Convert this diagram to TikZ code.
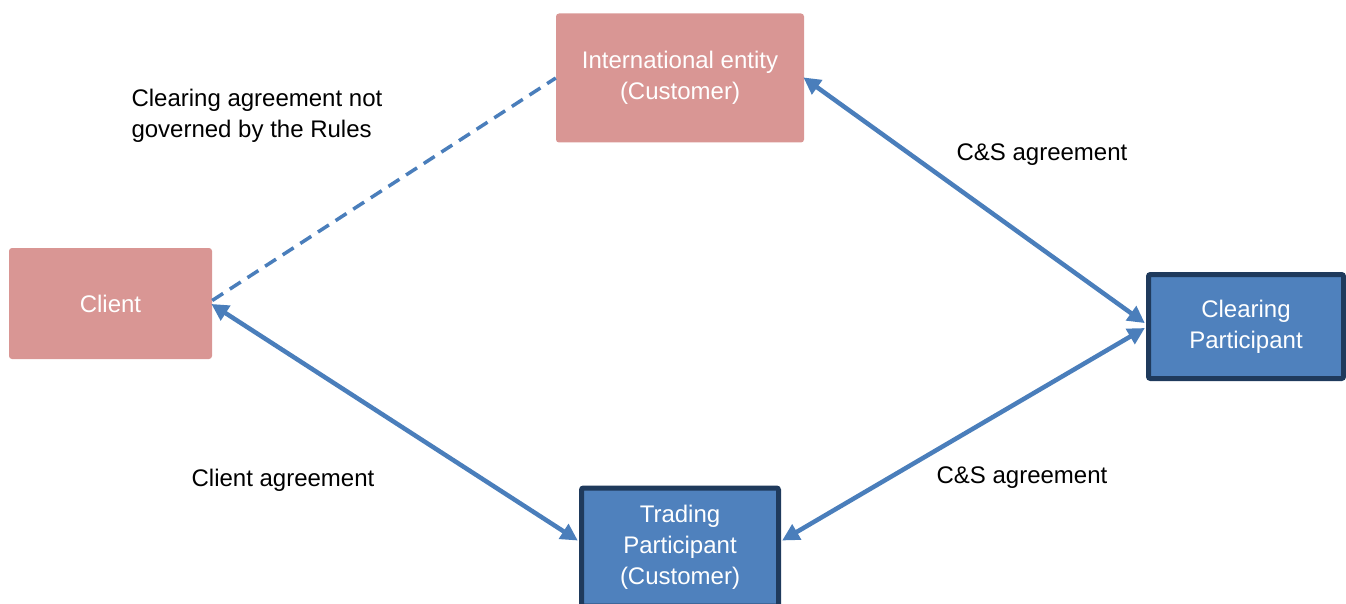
\documentclass[tikz,border=0pt]{standalone}
\usepackage{fontspec}
\setmainfont{Liberation Sans}
\usetikzlibrary{arrows.meta}
\usetikzlibrary{positioning}

\definecolor{rosebox}{HTML}{D99694}
\definecolor{bluebox}{HTML}{4F81BD}
\definecolor{navyline}{HTML}{1F3A5C}
\definecolor{linkblue}{HTML}{4A7EBB}

\begin{document}
\begin{tikzpicture}[x=1pt, y=-1pt,
        every node/.style={font=\fontsize{24}{31}\selectfont},
        party/.style={fill=rosebox, text=white, rounded corners=3pt, align=center, inner sep=0pt},
        member/.style={fill=bluebox, draw=navyline, line width=5pt, text=white, rounded corners=2pt, align=center, inner sep=0pt},
        link/.style={draw=linkblue, line width=4.5pt, {Triangle[length=17pt,width=17pt]}-{Triangle[length=17pt,width=17pt]}, shorten <=-1pt, shorten >=-1pt},
        nolink/.style={draw=linkblue, line width=3.5pt, dash pattern=on 13pt off 8pt}]
    \useasboundingbox (0,0) rectangle (1346,604);

    % Entities
    \node[party, minimum width=248pt, minimum height=129pt] (intl) at (680,78)
        {International entity\\(Customer)};
    \node[party, minimum width=203pt, minimum height=111pt] (client) at (110.5,303.5)
        {Client};
    \node[member, minimum width=195pt, minimum height=104pt] (clearing) at (1246,326.5)
        {Clearing\\Participant};
    \node[member, minimum width=197pt, minimum height=118pt] (trading) at (680,547)
        {Trading\\Participant\\(Customer)};

    % Agreements
    \draw[nolink] ([yshift=3pt]client.east) -- (intl.west);
    \draw[link] (intl.east) -- ([yshift=4pt,xshift=-2pt]clearing.west);
    \draw[link] ([yshift=-2pt,xshift=-2pt]clearing.west) -- ([yshift=7pt,xshift=2pt]trading.east);
    \draw[link] ([yshift=-1pt]client.east) -- ([yshift=7pt,xshift=-2pt]trading.west);

    % Labels
    \node[anchor=west, align=left] (rules) at (128,116)
        {Clearing agreement not\\governed by the Rules};
    \node (cs top) at (1042,155) {C\&S agreement};
    \node (cs bottom) at (1022,478) {C\&S agreement};
    \node (client deal) at (283,480) {Client agreement};
\end{tikzpicture}
\end{document}
